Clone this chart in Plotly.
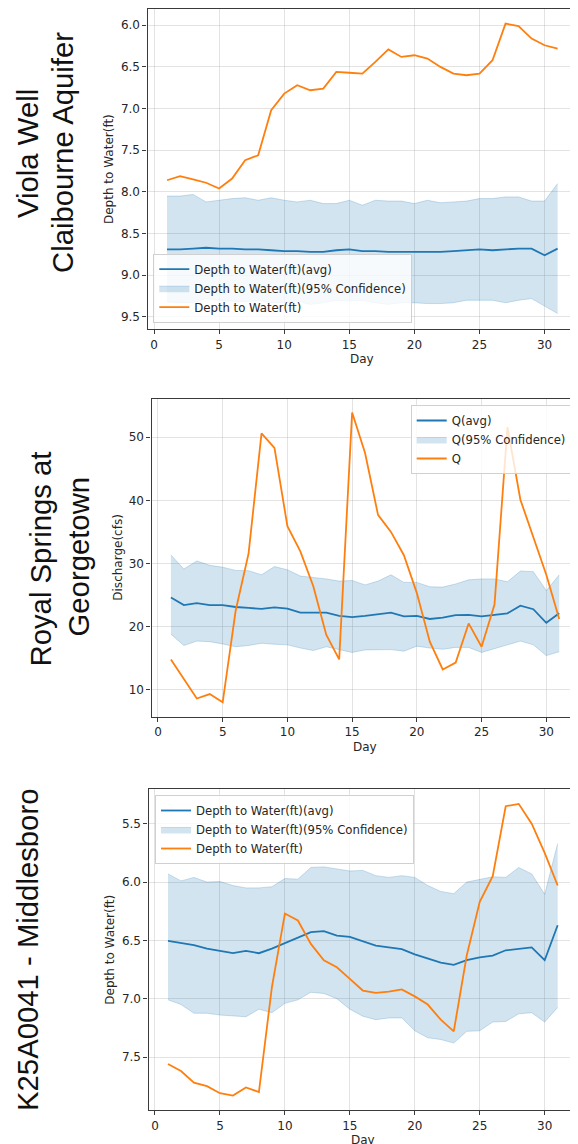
import plotly.graph_objects as go

# ---------------- data ----------------
days = list(range(1, 32))

# Panel 1: Viola Well, Claibourne Aquifer (depth to water, ft)
viola_depth = [7.86, 7.81, 7.85, 7.89, 7.96, 7.84, 7.62, 7.56, 7.02, 6.82,
               6.72, 6.78, 6.76, 6.56, 6.57, 6.58, 6.44, 6.29, 6.38, 6.36,
               6.40, 6.50, 6.58, 6.60, 6.58, 6.42, 5.98, 6.01, 6.16, 6.24, 6.28]
viola_avg = [8.69, 8.69, 8.68, 8.67, 8.68, 8.68, 8.69, 8.69, 8.70, 8.71,
             8.71, 8.72, 8.72, 8.70, 8.69, 8.71, 8.71, 8.72, 8.72, 8.72,
             8.72, 8.72, 8.71, 8.70, 8.69, 8.70, 8.69, 8.68, 8.68, 8.76, 8.68]
viola_upper = [8.05, 8.05, 8.03, 8.12, 8.10, 8.08, 8.07, 8.10, 8.07, 8.10,
               8.12, 8.10, 8.14, 8.14, 8.10, 8.16, 8.10, 8.11, 8.11, 8.14,
               8.10, 8.13, 8.12, 8.11, 8.08, 8.08, 8.06, 8.06, 8.11, 8.11, 7.90]
viola_lower = [9.32, 9.33, 9.33, 9.28, 9.30, 9.31, 9.32, 9.30, 9.33, 9.33,
               9.31, 9.35, 9.33, 9.30, 9.31, 9.30, 9.33, 9.35, 9.33, 9.33,
               9.34, 9.34, 9.33, 9.30, 9.30, 9.30, 9.33, 9.30, 9.28, 9.37, 9.46]

# Panel 2: Royal Springs at Georgetown (discharge, cfs)
royal_q = [14.8, 11.8, 8.6, 9.3, 8.0, 22.5, 31.6, 50.6, 48.3, 35.9,
           31.9, 26.4, 18.7, 14.8, 53.9, 47.5, 37.7, 35.0, 31.3, 25.3,
           17.6, 13.2, 14.3, 20.5, 16.8, 23.5, 51.6, 40.1, 34.3, 28.2, 21.2]
royal_avg = [24.6, 23.4, 23.7, 23.4, 23.4, 23.1, 22.95, 22.8, 23.05, 22.85,
             22.2, 22.2, 22.2, 21.7, 21.5, 21.7, 22.0, 22.2, 21.6, 21.7,
             21.2, 21.4, 21.8, 21.85, 21.6, 21.85, 22.1, 23.3, 22.75, 20.6, 22.1]
royal_upper = [31.35, 29.1, 30.4, 29.7, 29.4, 28.9, 28.85, 28.2, 29.5, 29.0,
               28.0, 27.8, 27.55, 27.2, 27.3, 26.6, 27.2, 28.2, 27.0, 27.0,
               26.3, 26.25, 26.75, 27.4, 27.55, 27.55, 27.1, 28.8, 28.7, 25.7, 28.2]
royal_lower = [18.8, 17.0, 17.7, 17.6, 17.25, 16.8, 17.0, 17.35, 17.2, 17.1,
               16.6, 16.2, 16.8, 16.4, 15.9, 16.3, 16.35, 16.35, 16.1, 16.9,
               16.6, 16.4, 16.7, 16.7, 15.9, 16.5, 17.1, 17.7, 17.1, 15.4, 16.0]

# Panel 3: K25A0041 - Middlesboro (depth to water, ft)
midd_depth = [7.56, 7.62, 7.72, 7.75, 7.81, 7.83, 7.76, 7.80, 6.90, 6.27,
              6.33, 6.53, 6.67, 6.73, 6.83, 6.93, 6.95, 6.94, 6.92, 6.98,
              7.05, 7.18, 7.28, 6.63, 6.17, 5.95, 5.35, 5.33, 5.50, 5.75, 6.03]
midd_avg = [6.505, 6.525, 6.54, 6.57, 6.59, 6.61, 6.59, 6.61, 6.57, 6.525,
            6.48, 6.43, 6.42, 6.46, 6.47, 6.51, 6.545, 6.56, 6.575, 6.62,
            6.655, 6.69, 6.71, 6.67, 6.645, 6.63, 6.585, 6.575, 6.56, 6.67, 6.37]
midd_upper = [5.93, 5.99, 5.96, 6.00, 5.995, 6.03, 6.05, 6.05, 6.04, 5.97,
              5.975, 5.875, 5.87, 5.89, 5.905, 5.90, 5.945, 5.96, 5.945, 5.96,
              6.03, 6.08, 6.10, 6.00, 5.975, 5.955, 5.96, 5.875, 5.93, 6.105, 5.67]
midd_lower = [7.01, 7.05, 7.125, 7.125, 7.14, 7.145, 7.155, 7.09, 7.12, 7.04,
              7.01, 6.945, 6.955, 7.00, 7.09, 7.15, 7.18, 7.165, 7.165, 7.275,
              7.335, 7.35, 7.38, 7.28, 7.275, 7.20, 7.195, 7.13, 7.12, 7.20, 7.075]

x_ticks = [0, 5, 10, 15, 20, 25, 30]

panels = [
    dict(label=["Viola Well", "Claibourne Aquifer"], ytitle="Depth to Water(ft)",
         main=viola_depth, avg=viola_avg, up=viola_upper, lo=viola_lower,
         name_main="Depth to Water(ft)", name_avg="Depth to Water(ft)(avg)",
         name_ci="Depth to Water(ft)(95% Confidence)"),
    dict(label=["Royal Springs at", "Georgetown"], ytitle="Discharge(cfs)",
         main=royal_q, avg=royal_avg, up=royal_upper, lo=royal_lower,
         name_main="Q", name_avg="Q(avg)", name_ci="Q(95% Confidence)"),
    dict(label=["K25A0041 - Middlesboro"], ytitle="Depth to Water(ft)",
         main=midd_depth, avg=midd_avg, up=midd_upper, lo=midd_lower,
         name_main="Depth to Water(ft)", name_avg="Depth to Water(ft)(avg)",
         name_ci="Depth to Water(ft)(95% Confidence)"),
]

# ---------------- layout helpers (page-pixel geometry) ----------------
# The page body has an 8px margin, so the figure starts at page (8, 8).
OFF = 8
PAGE_W, PAGE_H = 578, 1144
W, H = PAGE_W - OFF, PAGE_H - OFF


def fx(px):
    return (px - OFF) / W


def fy(py):
    return 1 - (py - OFF) / H


BLUE = "#1f77b4"
ORANGE = "#ff7f0e"
FILL = "rgba(31,119,180,0.2)"
EDGE = "rgba(31,119,180,0.22)"
GRID = "rgba(176,176,176,0.35)"
AXC = "#3a3a3a"
TXT = "#262626"
MPL_FONT = "DejaVu Sans"

geom = [
    dict(xd=(147.5, 576.5), yd=(9, 329), xr=[-0.5, 32.45], yr=[9.645, 5.805],
         yt=[6.0, 6.5, 7.0, 7.5, 8.0, 8.5, 9.0, 9.5], yfmt=".1f", ymirror=True,
         title_x=109, day_y=359,
         legend=dict(x=fx(153.3), y=fy(322.7), xanchor="left", yanchor="bottom"),
         lab=[(27, 154), (63, 153)]),
    dict(xd=(151.5, 578), yd=(398.7, 716.7), xr=[-0.5, 32.45], yr=[5.72, 56.1],
         yt=[10, 20, 30, 40, 50], yfmt="d", ymirror=False,
         title_x=118, day_y=746.7,
         legend=dict(x=fx(571.7), y=fy(405), xanchor="right", yanchor="top"),
         lab=[(40, 559.5), (78, 556.5)]),
    dict(xd=(148.5, 576.5), yd=(789.3, 1110), xr=[-0.5, 32.45], yr=[7.954, 5.205],
         yt=[5.5, 6.0, 6.5, 7.0, 7.5], yfmt=".1f", ymirror=True,
         title_x=110, day_y=1140,
         legend=dict(x=fx(155), y=fy(795), xanchor="left", yanchor="top"),
         lab=[(27, 950)]),
]

fig = go.Figure()
annotations = []
layout = dict(
    width=W, height=H,
    margin=dict(l=0, r=0, t=0, b=0),
    paper_bgcolor="white", plot_bgcolor="white",
    hovermode=False,
    showlegend=True,
)

for i, (p, g) in enumerate(zip(panels, geom)):
    n = i + 1
    xa = "x" if n == 1 else f"x{n}"
    ya = "y" if n == 1 else f"y{n}"
    lg = "legend" if n == 1 else f"legend{n}"

    fig.add_trace(go.Scatter(x=days, y=p["lo"], mode="lines", line=dict(color=EDGE, width=1),
                             showlegend=False, xaxis=xa, yaxis=ya, legend=lg))
    fig.add_trace(go.Scatter(x=days, y=p["up"], mode="lines", line=dict(color=EDGE, width=1),
                             fill="tonexty", fillcolor=FILL, name=p["name_ci"],
                             xaxis=xa, yaxis=ya, legend=lg, legendrank=2))
    fig.add_trace(go.Scatter(x=days, y=p["avg"], mode="lines", line=dict(color=BLUE, width=1.8),
                             name=p["name_avg"], xaxis=xa, yaxis=ya, legend=lg, legendrank=1))
    fig.add_trace(go.Scatter(x=days, y=p["main"], mode="lines", line=dict(color=ORANGE, width=1.8),
                             name=p["name_main"], xaxis=xa, yaxis=ya, legend=lg, legendrank=3))

    xkey = "xaxis" if n == 1 else f"xaxis{n}"
    ykey = "yaxis" if n == 1 else f"yaxis{n}"
    xd1 = min(g["xd"][1], PAGE_W)
    layout[xkey] = dict(
        domain=[fx(g["xd"][0]), min(fx(xd1), 1.0)], range=g["xr"], anchor=ya,
        tickvals=x_ticks, showgrid=True, gridcolor=GRID, gridwidth=1,
        zeroline=False, showline=True, mirror=True, linecolor=AXC, linewidth=1.2,
        ticks="outside", ticklen=4, tickwidth=1, tickcolor=AXC,
        tickfont=dict(family=MPL_FONT, size=12, color=TXT), automargin=False,
        fixedrange=True,
    )
    layout[ykey] = dict(
        domain=[fy(g["yd"][1]), fy(g["yd"][0])], range=g["yr"], anchor=xa,
        tickvals=g["yt"], tickformat=g["yfmt"], showgrid=True, gridcolor=GRID, gridwidth=1,
        zeroline=False, showline=True, mirror=g["ymirror"], linecolor=AXC, linewidth=1.2,
        ticks="outside", ticklen=4, tickwidth=1, tickcolor=AXC,
        tickfont=dict(family=MPL_FONT, size=12, color=TXT), automargin=False,
        fixedrange=True,
    )
    layout[lg] = dict(
        **g["legend"],
        traceorder="normal",
        bgcolor="rgba(255,255,255,0.8)", bordercolor="#d0d0d0", borderwidth=1,
        font=dict(family=MPL_FONT, size=11.7, color=TXT),
        tracegroupgap=0, itemwidth=30,
    )

    # y-axis title
    annotations.append(dict(
        text=p["ytitle"], x=fx(g["title_x"]), y=fy((g["yd"][0] + g["yd"][1]) / 2),
        xref="paper", yref="paper", xanchor="center", yanchor="middle",
        textangle=-90, showarrow=False,
        font=dict(family=MPL_FONT, size=12, color=TXT)))
    # x-axis title
    annotations.append(dict(
        text="Day", x=fx((g["xd"][0] + min(g["xd"][1], 578.6)) / 2), y=fy(g["day_y"]),
        xref="paper", yref="paper", xanchor="center", yanchor="middle",
        showarrow=False, font=dict(family=MPL_FONT, size=12, color=TXT)))
    # big side label(s)
    for line, (lx, ly) in zip(p["label"], g["lab"]):
        annotations.append(dict(
            text=line, x=fx(lx), y=fy(ly), xref="paper", yref="paper",
            xanchor="center", yanchor="middle", textangle=-90, showarrow=False,
            font=dict(family="Liberation Sans, Arial", size=29.3, color="#111111")))

layout["annotations"] = annotations
fig.update_layout(**layout)
fig.write_html("out.html")
